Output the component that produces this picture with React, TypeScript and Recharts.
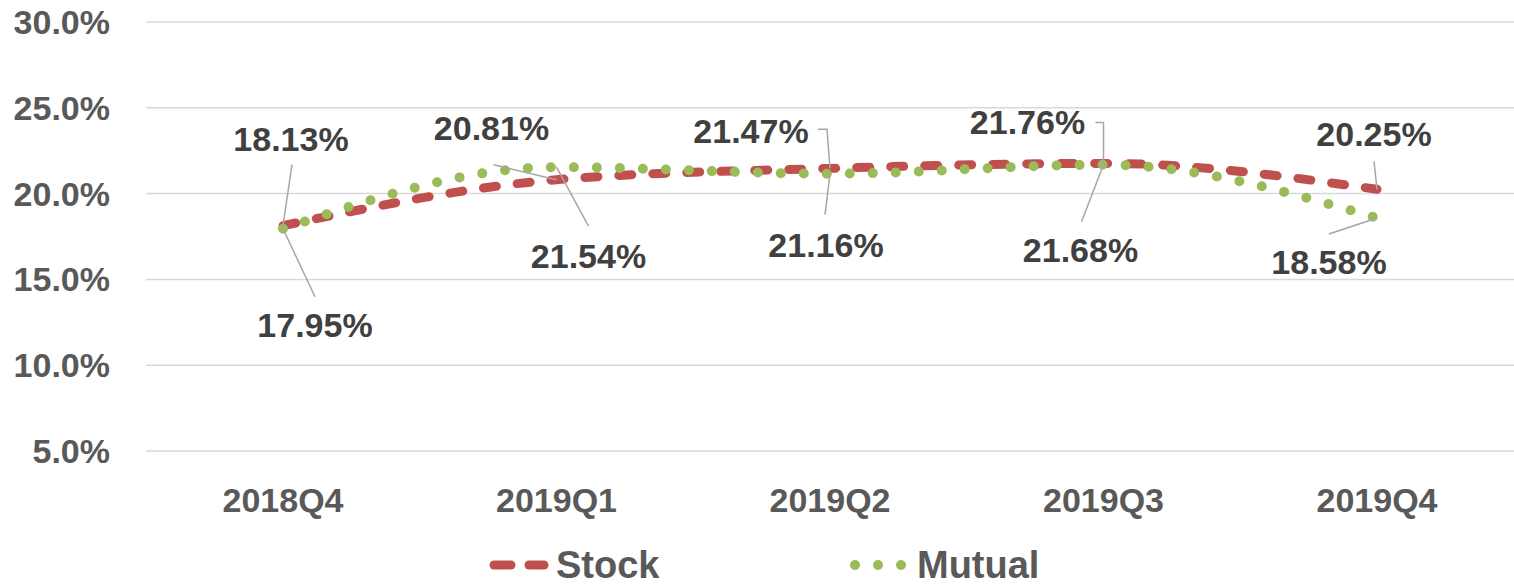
import { CartesianGrid, LabelList, Line, LineChart, XAxis, YAxis } from "recharts";

const quarters = ["2018Q4", "2019Q1", "2019Q2", "2019Q3", "2019Q4"];
const stockRates = [18.13, 20.81, 21.47, 21.76, 20.25];
const mutualRates = [17.95, 21.54, 21.16, 21.68, 18.58];
const yTicks = [5, 10, 15, 20, 25, 30];

// label placement relative to its point: [dx, dy, leaderX, leaderY, elbowX | null]
type LabelPos = [number, number, number, number, number | null];
const stockLabelPos: LabelPos[] = [
  [8, -87, 9, -61, null],
  [-65, -52, -63, -15, null],
  [-79, -37, -12, -39, -3],
  [-76, -41, -8, -41, 0],
  [-3, -55, -3, -28, null],
];
const mutualLabelPos: LabelPos[] = [
  [32, 96, 32, 68, null],
  [32, 89, 32, 59, null],
  [-4, 71, -5, 41, null],
  [-23, 85, -22, 57, null],
  [-48, 44, -48, 16, null],
];

const data = quarters.map((q, i) => ({
  quarter: q,
  stock: stockRates[i],
  mutual: mutualRates[i],
}));

const FONT = "'Liberation Sans', Arial, sans-serif";
const RED = "#C0504D";
const GREEN = "#9BBB59";

function makeLabel(pos: LabelPos[]) {
  return (props: any) => {
    const { x, y, value, index } = props;
    const p = pos[index];
    if (!p || x == null || y == null) return null;
    const [dx, dy, lx, ly, ex] = p;
    const d =
      ex == null
        ? `M${x + lx},${y + ly} L${x},${y}`
        : `M${x + lx},${y + ly} L${x + ex},${y + ly} L${x},${y}`;
    return (
      <g>
        <path d={d} stroke="#A6A6A6" strokeWidth={1.5} fill="none" />
        <text
          x={x + dx}
          y={y + dy}
          textAnchor="middle"
          dominantBaseline="central"
          fontFamily={FONT}
          fontWeight={700}
          fontSize={34}
          fill="#404040"
        >
          {Number(value).toFixed(2)}%
        </text>
      </g>
    );
  };
}

export default function App() {
  return (
    <div style={{ position: "absolute", left: 0, top: 0, width: 1514, height: 584, background: "#fff" }}>
      <LineChart
        width={1514}
        height={584}
        data={data}
        margin={{ top: 22, right: 0, left: 0, bottom: 103 }}
      >
        <CartesianGrid vertical={false} stroke="#D9D9D9" strokeWidth={1.5} />
        <XAxis
          dataKey="quarter"
          axisLine={false}
          tickLine={false}
          tickSize={0}
          tickMargin={37}
          padding={{ left: 137, right: 137 }}
          tick={{ fontSize: 34, fontWeight: 700, fill: "#595959", fontFamily: FONT }}
        />
        <YAxis
          width={146}
          domain={[5, 30]}
          ticks={yTicks}
          axisLine={false}
          tickLine={false}
          tickSize={0}
          tickMargin={36}
          tickFormatter={(v) => `${Number(v).toFixed(1)}%`}
          tick={{ fontSize: 34, fontWeight: 700, fill: "#595959", fontFamily: FONT }}
        />
        <Line
          type="monotone"
          dataKey="stock"
          stroke={RED}
          strokeWidth={9}
          strokeDasharray="13 21"
          strokeLinecap="round"
          dot={false}
          activeDot={false}
          isAnimationActive={false}
        >
          <LabelList dataKey="stock" content={makeLabel(stockLabelPos)} />
        </Line>
        <Line
          type="monotone"
          dataKey="mutual"
          stroke={GREEN}
          strokeWidth={10}
          strokeDasharray="0 23"
          strokeLinecap="round"
          dot={false}
          activeDot={false}
          isAnimationActive={false}
        >
          <LabelList dataKey="mutual" content={makeLabel(mutualLabelPos)} />
        </Line>
      </LineChart>
      <svg
        width={1514}
        height={60}
        style={{ position: "absolute", left: 0, top: 530 }}
      >
        <line x1={494} y1={35} x2={511} y2={35} stroke={RED} strokeWidth={9} strokeLinecap="round" />
        <line x1={529} y1={35} x2={544} y2={35} stroke={RED} strokeWidth={9} strokeLinecap="round" />
        <text x={556} y={35} dominantBaseline="central" fontFamily={FONT} fontWeight={700} fontSize={38} fill="#595959">
          Stock
        </text>
        <circle cx={855} cy={35} r={5} fill={GREEN} />
        <circle cx={878} cy={35} r={5} fill={GREEN} />
        <circle cx={901} cy={35} r={5} fill={GREEN} />
        <text x={917} y={35} dominantBaseline="central" fontFamily={FONT} fontWeight={700} fontSize={38} fill="#595959">
          Mutual
        </text>
      </svg>
    </div>
  );
}
